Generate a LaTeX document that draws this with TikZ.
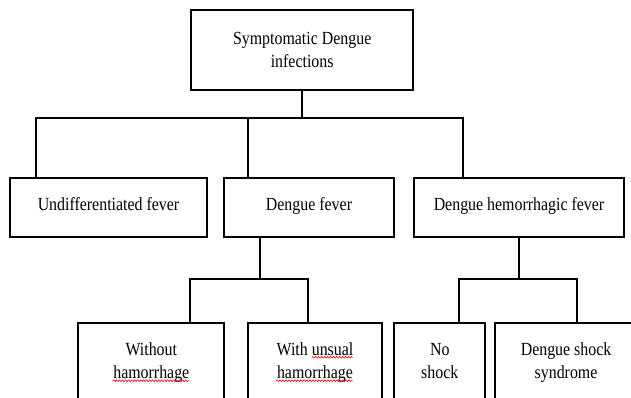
\documentclass[tikz,border=0pt]{standalone}
\usepackage{fontspec}
\setmainfont{Liberation Serif}
\newfontfamily\boxfont[FakeStretch=0.86]{Liberation Serif}
\usetikzlibrary{positioning}
\usetikzlibrary{decorations.pathmorphing}
\tikzset{
  box/.style={draw=black, line width=2pt, anchor=north west, align=center,
    inner xsep=0pt, text height=13pt, font=\boxfont\fontsize{18.5}{23}\selectfont},
  twoline/.style={text height=36pt},
  link/.style={draw=black, line width=1.8pt},
  spell/.style={draw=red, line width=0.6pt, decorate,
    decoration={snake, amplitude=0.9pt, segment length=3pt}}
}

\begin{document}
\begin{tikzpicture}[x=1pt, y=-1pt]
    \clip (0,0) rectangle (631,398);
    \useasboundingbox (0,0) rectangle (631,398);
    %
    \node[box, twoline, minimum width=222.3, minimum height=80, text depth=2pt] (sdi) at (190,9.3) {Symptomatic Dengue\\infections};
    %
    \node[box, minimum width=196.4, minimum height=58.5, text depth=7.4pt] (udf) at (9.3,177.3) {Undifferentiated fever};
    \node[box, minimum width=169.4, minimum height=58.5, text depth=7.4pt] (df)  at (223.3,177.3) {Dengue fever};
    \node[box, minimum width=209.4, minimum height=58.5, text depth=7.4pt] (dhf) at (413.3,177.3) {Dengue hemorrhagic fever};
    %
    \node[box, twoline, minimum width=146,   inner ysep=18.7pt, text depth=70pt] (woh) at (77.3,322.3)  {Without\\hamorrhage};
    \node[box, twoline, minimum width=133.4, inner ysep=18.7pt, text depth=70pt] (wuh) at (247.3,322.3) {With unsual\\hamorrhage};
    \node[box, twoline, minimum width=91,    inner ysep=18.7pt, text depth=70pt] (nsh) at (393.3,322.3) {No\\shock};
    \node[box, twoline, minimum width=141.5, inner ysep=18.7pt, text depth=70pt] (dss) at (494.3,322.3) {Dengue shock\\syndrome};
    %
    \coordinate (busL) at (36,118.3);
    \coordinate (busM) at (248,118.3);
    \coordinate (busR) at (463.3,118.3);
    \coordinate (dfJ)  at (260,279.3);
    \coordinate (dfL)  at (190,279.3);
    \coordinate (dfR)  at (308.3,279.3);
    \coordinate (dhfL) at (459,279.3);
    \coordinate (dhfR) at (577.3,279.3);
    %
    \draw[link] (sdi.south) -- (sdi.south |- busL);
    \draw[link] (busL |- udf.north) -- (busL) -- (busR) -- (busR |- dhf.north);
    \draw[link] (busM) -- (busM |- df.north);
    %
    \draw[link] (dfJ |- df.south) -- (dfJ);
    \draw[link] (dfL |- woh.north) -- (dfL) -- (dfR) -- (dfR |- wuh.north);
    \draw[link] (dhf.south) -- (dhf.south |- dhfL);
    \draw[link] (dhfL |- nsh.north) -- (dhfL) -- (dhfR) -- (dhfR |- dss.north);
    %
    % spelling marks
    \draw[spell] (112.7,380.7) -- (189.3,380.7);
    \draw[spell] (276,380.7) -- (352.7,380.7);
    \draw[spell] (311.7,357.3) -- (352.7,357.3);
\end{tikzpicture}
\end{document}
